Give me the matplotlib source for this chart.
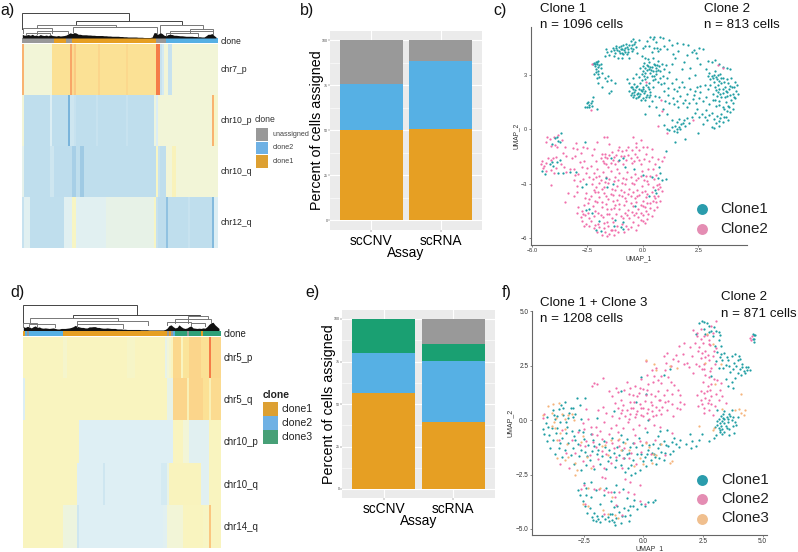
"""CNV clone heatmaps, assignment bars and UMAPs for two samples."""
import matplotlib
matplotlib.use("Agg")
import matplotlib.pyplot as plt
from matplotlib.colors import LinearSegmentedColormap, ListedColormap

plt.rcParams["font.family"] = ["Liberation Sans", "DejaVu Sans"]

W, H = 798, 552

# heatmap a
a_rows = ["chr7_p", "chr10_p", "chr10_q", "chr12_q"]
a_chr7_p = [.85] + [.5]*14 + [.72]*9 + [.88] + [.74, .79, .72] + [.72]*10 + [.76] + [.72]*13 + [.75] + [.72]*14 + [.97, .97] + [.3, .36] + [.5, .5] + [.3, .3] + [.5]*23
a_chr10_p = [.5] + [.26]*13 + [.4] + [.26]*8 + [.1] + [.33, .33, .3] + [.26]*10 + [.3] + [.26]*14 + [.3] + [.26]*13 + [.48, .4, .5] + [.5]*26 + [.85] + [.55, .52]
a_chr10_q = [.44] + [.26]*13 + [.33, .33] + [.25]*9 + [.2, .2] + [.26]*2 + [.18, .18] + [.26]*36 + [.55] + [.3] + [.26]*3 + [.5]*3 + [.58]*2 + [.5]*21
a_chr12_q = [.3] + [.42]*3 + [.26]*17 + [.42]*4 + [.55, .55] + [.42]*15 + [.45]*24 + [.55] + [.3] + [.25]*4 + [.15] + [.26]*10 + [.3] + [.26]*11 + [.12] + [.4, .4]
a_clone = [2]*16 + [0]*6 + [2]*3 + [0]*42 + [2]*5 + [1]*26
a_mass = [.15, .11, .12, .14, .11, .15, .1, .12, .09, .14, .11, .1, .12, .09, .14, .1, .09, .08, .1, .08, .09, .1, .12, .17, .21, .18, .22, .2, .15, .15, .13, .13, .13, .12, .12, .11, .11, .1, .1, .1, .1, .09, .09, .08, .08, .07, .07, .07, .07, .06, .06, .05, .05, .04, .04, .04, .04, .04, .03, .03, .03, .02, .02, .02, .02, .04, .22, .21, .15, .22, .18, .11, .09, .14, .15, .14, .11, .11, .1, .09, .09, .08, .07, .07, .07, .07, .06, .06, .05, .05, .04, .04, .09, .15, .15, .18, .1, .04]
# left col, right col, merge height, left child height, right child height
a_merges = [
    (0, 53.5, 1, .35, .68), (27, 80, .68, .54, .54), (7.5, 47, .54, .4, .43),
    (69, 90.5, .54, .23, .36), (.5, 14.7, .4, .2, .2), (25.5, 67.5, .43, .23, .16),
    (7.5, 23, .27, .15, .15), (2, 14, .2, .12, .12), (74, 95.5, .3, .15, .18),
    (84, 95.5, .36, .2, .2), (72, 88, .22, .12, .1),
]

# heatmap d
d_rows = ["chr5_p", "chr5_q", "chr10_p", "chr10_q", "chr14_q"]
d_chr5_p = [.56]*20 + [.53, .53] + [.56]*30 + [.54]*4 + [.56]*15 + [.45, .5, .53, .56] + [.75]*4 + [.56] + [.7]*3 + [.76]*6 + [.72]*4 + [.97] + [.75]*5
d_chr5_q = [.4] + [.56]*71 + [.45]*3 + [.76]*7 + [.6] + [.76]*7 + [.72]*3 + [.6] + [.74]*5
d_chr10_p = [.56]*28 + [.41]*47 + [.56]*5 + [.5]*3 + [.42]*10 + [.56]*6
d_chr10_q = [.56]*27 + [.41]*13 + [.33] + [.41]*28 + [.36]*3 + [.45] + [.57]*16 + [.42]*4 + [.56]*6
d_chr14_q = [.56]*20 + [.48]*7 + [.33] + [.41]*42 + [.42]*2 + [.5]*8 + [.56]*10 + [.55]*3 + [.8] + [.56]*5
d_clone = [0, 1, 2, 1] + [1]*16 + [0]*52 + [2, 0, 2, 1] + [3]*6 + [2] + [3]*6 + [0] + [3]*9
d_mass = [.15, .12, .16, .14, .1, .15, .18, .12, .14, .1, .09, .1, .09, .08, .09, .1, .08, .06, .06, .08, .08, .08, .09, .1, .12, .15, .2, .16, .14, .12, .12, .1, .1, .14, .14, .15, .15, .12, .12, .1, .09, .09, .1, .09, .08, .08, .08, .06, .06, .06, .05, .05, .04, .04, .04, .04, .04, .04, .04, .03, .03, .03, .03, .02, .02, .02, .02, .02, .02, .02, .02, .04, .09, .19, .22, .15, .1, .12, .22, .15, .1, .08, .1, .15, .18, .1, .09, .08, .09, .08, .1, .09, .15, .24, .3, .32, .22, .15, .08]
d_merges = [
    (0, 57, 1, .28, .62), (25, 88.7, .62, .49, .58), (3.3, 47.5, .49, .32, .36),
    (26.7, 62.5, .36, .2, .22), (76, 94, .46, .3, .32), (82.5, 92.5, .58, .3, .46),
    (0, 6.7, .28, .15, .15), (3, 16, .24, .12, .12), (27, 50, .24, .14, .1),
    (72, 84, .34, .2, .2), (84, 91, .3, .16, .16),
]

# stacked bars, values in percent
assays = ["scCNV", "scRNA"]
b_clone1 = [50.0, 50.8]
b_clone2 = [25.7, 37.4]
b_unassigned = [24.3, 11.8]
e_clone1 = [56.5, 39.7]
e_clone2 = [23.5, 35.5]
e_clone3 = [20.0, 10.0]
e_unassigned = [0.0, 14.8]

# UMAP points
c_clone1 = [
    (-2.2,3.65),(-2.12,3.72),(-2.05,3.6),(-2.15,3.5),(-2.0,3.75),(-1.95,3.55),(-2.1,3.3),(-2.02,3.2),(-2.2,3.05),(-2.0,3.02),(-1.9,3.35),(-1.85,3.1),
    (-2.05,2.8),(-1.72,2.85),(-1.6,2.65),(-1.55,2.92),(-1.42,2.72),(-1.25,2.55),(-2.0,2.55),(-1.85,2.3),(-1.42,2.1),(-1.5,2.0),(-2.5,1.42),(-2.45,1.52),
    (-2.4,1.35),(-2.35,1.46),(-2.5,1.25),(-2.3,1.3),(-2.42,1.22),(-2.3,1.55),(-2.25,1.75),(-2.6,1.2),(-2.05,1.1),
    (-1.72,4.02),(-1.6,4.25),(-1.65,4.42),(-1.5,4.1),(-1.42,4.3),(-1.35,4.5),(-1.3,4.02),(-1.25,4.2),(-1.2,4.6),(-1.15,4.35),(-1.05,4.55),(-1.0,4.42),(-.95,4.2),
    (-.9,4.62),(-.85,4.35),(-.8,4.47),(-.75,4.7),(-.7,4.15),(-.65,4.4),(-.6,4.62),(-.55,4.85),(-.45,4.95),(-.4,4.72),(-.5,4.3),(-.35,4.82),(-.62,3.92),(-.95,3.95),(-1.12,3.9),
    (-.18,4.9),(0,4.45),(.1,4.6),(.2,4.85),(.35,5.08),(.45,4.95),(.5,5.1),(.6,4.78),(.8,5.1),(.92,5.02),(1.2,4.92),(.5,4.5),(.65,4.45),(.8,4.42),(.95,4.6),(1.1,4.4),(1.3,4.65),(1.55,4.75),(1.8,4.7),(2.05,4.62),
    (2.2,4.25),(2.32,4.35),(2.42,4.22),(2.55,4.45),(2.7,4.4),(2.45,3.9),(2.95,3.75),(3.1,3.7),(3.25,3.8),(3.45,3.6),(3.62,3.45),(3.8,3.35),(3.95,3.3),
    (-.25,4.2),(-.05,4.05),(.1,3.95),(.25,3.85),(.45,3.95),(.05,3.65),(.2,3.55),(.3,3.7),(.42,3.45),(.55,3.55),(.62,3.35),(.75,3.5),(.88,3.62),(.7,3.75),(.95,3.3),(1.05,3.55),(1.2,3.15),(1.3,3.6),(1.45,3.9),(1.75,3.3),(1.85,3.7),(2.15,3.35),
    (-.12,3.35),(0,3.2),(.12,3.1),(.28,3.3),(.35,3.1),(.5,2.95),(.62,3.05),(.78,2.85),(.92,2.95),(-.3,3.05),(-.42,2.85),(-.15,2.9),(-.05,2.7),(.1,2.75),(.3,2.55),(.45,2.7),(1.1,2.8),(1.3,2.55),(1.5,2.75),(1.75,2.6),(2.1,2.8),(2.35,3.0),
    (-.7,2.75),(-.6,2.55),(-.5,2.35),(-.38,2.5),(-.25,2.4),(-.12,2.55),(0,2.3),(.15,2.45),(.28,2.2),(.45,2.3),(-.6,2.1),(-.48,2.0),(-.35,2.15),(-.22,2.0),(-.1,2.15),(.05,2.0),(.18,1.9),(.32,2.05),(-.45,1.8),(-.3,1.7),(-.15,1.85),(0,1.7),(.12,1.6),(.28,1.75),
    (.55,1.85),(.75,1.75),(.95,2.1),(1.15,1.9),(1.35,1.7),(1.55,2.1),(1.7,1.85),(1.85,2.3),(2.0,1.95),(2.15,2.2),(2.3,1.9),(2.45,2.3),(2.6,2.05),(2.8,2.45),(2.95,2.2),
    (2.25,1.65),(2.4,1.45),(2.55,1.7),(2.7,1.55),(2.85,1.75),(3.0,1.4),(3.15,1.6),(3.3,1.3),(3.45,1.55),(3.6,1.25),(3.75,1.5),(3.9,1.2),(4.05,1.45),(4.15,1.7),
    (3.0,3.1),(3.12,2.95),(3.25,3.2),(3.35,2.75),(3.5,3.05),(3.6,2.8),(3.2,2.6),(3.05,2.45),(3.4,2.45),(3.55,2.55),(3.7,2.35),(3.85,2.55),(4.0,2.8),(4.15,2.6),(4.25,2.45),(3.3,2.15),(3.45,2.2),(3.6,2.0),(3.75,2.1),(3.9,2.2),(4.05,1.95),(4.2,2.1),(3.15,1.95),(3.35,1.85),(3.55,1.8),(3.8,1.85),(4.0,1.6),
    (1.4,1.4),(1.6,1.25),(1.8,1.45),(2.0,1.2),(.9,1.1),(1.1,.85),(1.3,.5),(1.45,.2),(1.55,.4),(1.65,.55),(1.8,.35),(2.0,.6),(2.2,.7),(2.55,.65),(2.7,.3),(2.9,.5),(3.1,.15),(3.3,.35),(3.45,.2),(3.6,.4),(3.85,.5),(3.35,.75),(3.55,.85),(3.75,.7),(3.95,.95),(3.1,.9),(2.85,1.05),(2.45,1.1),
    (.75,.8),(.62,1.2),(.3,1.3),(.1,.85),(1.3,.1),(1.4,-.1),(1.55,-.15),(1.7,0),(2.5,-.22),(1.9,-.55),(1.46,-.7),(1.1,.0),(1.2,-.05),(.95,.25),(3.2,.05),
    # denser patches
    (-2.25,3.6),(-2.17,3.58),(-2.08,3.68),(-2.03,3.42),(-1.9,3.62),(-2.12,3.13),(-1.95,2.9),(-1.3,4.35),(-1.22,4.48),(-1.08,4.3),(-1.02,4.22),(-.98,4.6),(-.92,4.42),(-.87,4.15),(-.78,4.28),(-.72,4.55),(-.68,4.28),(-.55,4.5),(-.48,4.62),(-.42,4.4),
    (-.3,4.55),(.28,4.6),(.42,4.25),(.7,4.3),(1.35,4.15),(1.6,4.3),(2.0,4.1),(2.6,3.6),(2.85,3.3),
    (.02,3.5),(.12,3.4),(.18,3.25),(.25,3.5),(.32,3.42),(.38,3.25),(.45,3.2),(.5,3.6),(.58,3.2),(.66,3.55),(.7,3.25),(.8,3.2),(-.05,3.05),(.05,2.95),(.18,2.9),(.42,2.95),(.55,2.75),(.68,2.6),(.82,2.5),(.98,2.55),
    (-.55,2.3),(-.45,2.2),(-.4,2.05),(-.3,2.3),(-.27,1.95),(-.18,2.2),(-.12,1.95),(-.05,2.1),(.02,2.2),(.1,2.1),(.15,1.75),(.22,2.3),(.35,1.9),(-.38,1.9),(-.52,1.9),(-.2,1.75),(-.08,1.6),(.4,1.55),
    (2.95,2.95),(3.05,2.75),(3.15,2.85),(3.22,3.0),(3.3,2.9),(3.38,3.0),(3.45,2.65),(3.52,2.8),(3.68,2.6),(3.78,2.78),(3.92,2.4),(4.02,2.3),(4.12,2.35),(3.25,2.35),(3.38,2.05),(3.5,1.95),(3.62,2.2),(3.7,1.8),(3.82,2.05),(3.95,1.9),(4.1,1.8),(4.28,1.95),(3.28,1.6),(3.42,1.35),(3.68,1.1),(3.85,1.3),
    (1.55,.0),(1.62,.15),(1.72,.3),(1.9,.2),(1.85,.5),(2.1,.35),(2.35,.9),(2.65,.85),(2.8,.7),(3.0,.8),(3.2,.55),(3.5,.6),(3.65,.65),(3.78,1.0),(4.05,1.1),(3.45,.45),(1.0,1.55),(1.2,1.45),(1.55,1.55),(1.9,1.6),(2.1,1.45),(2.35,2.1),(2.6,2.4),(1.15,2.25),(1.4,2.2),(1.65,2.3),
]
c_clone1_low = [
    (-4.1,-.8),(-3.95,-.5),(-3.85,-.45),(-3.8,-.65),(-3.75,-.7),(-3.7,-.2),(-4.2,-1.9),(-4.1,-1.8),(-4.05,-2.0),(-3.85,-1.8),(-3.75,-1.7),(-4.55,-2.3),(-4.4,-2.45),(-3.8,-2.4),(-3.6,-2.4),(-3.3,-2.35),
    (-2.6,-.7),(-3.0,-2.35),(-2.75,-3.2),(-2.55,-3.0),(-1.45,-1.6),(-1.05,-1.7),(-.9,-1.6),(-.8,-2.1),(-.4,-2.2),(.0,-2.5),(.4,-2.6),(.75,-2.1),(.8,-2.4),(.7,-2.7),(.85,-2.8),(1.05,-2.75),(.55,-3.35),(.6,-3.5),(.3,-3.7),(-.35,-4.2),
    (-2.55,-4.45),(-2.4,-4.4),(-2.3,-4.6),(-1.95,-5.05),(-1.9,-5.6),(-2.1,-5.55),(-1.3,-5.3),(-1.25,-5.0),(-1.0,-5.4),(-.9,-5.1),(-.9,-5.5),(-1.65,-2.7),(-1.6,-3.2),(-1.35,-3.0),(1.05,-1.2),
]
c_clone2_up = [(-2.3,3.6),(-2.35,1.05),(.15,2.6),(.82,1.6),(.85,1.0),(.7,.2),(1.1,-.2),(2.25,.5),(3.6,3.4),(3.4,3.55)]
c_clone2 = [
    (-4.3,-.4),(-4.2,-.55),(-4.15,-.9),(-4.0,-.4),(-3.95,-.85),(-3.85,-1.0),(-4.35,-.7),(-3.65,-.6),(-3.5,-1.0),(-3.8,-.3),(-3.6,-1.3),(-3.45,-1.45),(-3.15,-1.05),
    (-4.6,-1.9),(-4.55,-1.75),(-4.45,-2.0),(-4.35,-1.85),(-4.25,-1.6),(-4.15,-1.7),(-4.05,-1.6),(-3.9,-1.5),(-4.5,-2.15),(-4.35,-2.3),(-4.15,-2.25),(-4.0,-2.4),(-3.9,-2.15),(-3.7,-1.9),(-3.55,-2.1),(-3.45,-2.35),(-3.3,-2.2),(-3.1,-2.2),
    (-4.15,-3.05),(-3.5,-4.0),(-3.35,-3.5),(-3.1,-3.7),(-2.95,-3.1),(-2.85,-2.85),(-2.9,-2.45),(-2.7,-2.75),(-2.55,-2.4),(-2.5,-2.15),(-2.65,-1.75),(-2.85,-1.8),(-3.0,-.75),(-2.95,-1.1),(-2.5,-1.05),(-2.3,-1.4),(-2.2,-1.1),(-2.1,-1.75),(-2.35,-2.0),
    (-2.05,-.7),(-1.75,-.45),(-1.6,-.45),(-1.85,-1.35),(-1.7,-1.35),(-1.6,-1.6),(-1.75,-1.85),(-1.55,-2.05),(-1.4,-1.25),(-1.3,-1.5),(-1.25,-1.9),(-1.15,-2.2),(-1.1,-1.15),(-.95,-1.2),(-.85,-1.45),(-.75,-1.15),(-.65,-.95),(-.5,-1.15),(-.45,-.45),(-.3,-1.0),(-.15,-1.15),(-.1,-.6),
    (-.55,-1.6),(-.4,-1.75),(-.25,-1.55),(-.1,-1.9),(.05,-1.65),(.15,-1.35),(.3,-1.75),(.4,-1.5),(.55,-1.9),(.7,-1.65),(.85,-1.75),(.95,-1.5),
    (-2.2,-2.4),(-2.05,-2.2),(-1.95,-2.55),(-1.8,-2.35),(-1.65,-2.65),(-1.45,-2.3),(-1.25,-2.6),(-1.05,-2.4),(-.9,-2.7),(-.7,-2.35),(-.55,-2.65),(-.35,-2.45),(-.2,-2.7),(-.05,-2.3),(.15,-2.55),(.25,-2.2),(.45,-2.2),(.6,-2.5),
    (-2.3,-3.0),(-2.1,-3.2),(-1.95,-2.95),(-1.75,-3.15),(-1.55,-2.95),(-1.4,-3.3),(-1.15,-3.1),(-1.0,-3.35),(-.8,-3.0),(-.6,-3.3),(-.4,-3.0),(-.25,-3.35),(-.05,-3.1),(.1,-3.4),(.25,-3.0),(.45,-3.15),(.65,-3.05),(.85,-3.4),
    (-2.55,-3.5),(-2.35,-3.65),(-2.15,-3.45),(-1.95,-3.75),(-1.75,-3.5),(-1.55,-3.85),(-1.35,-3.6),(-1.15,-3.9),(-.95,-3.65),(-.75,-3.95),(-.55,-3.7),(-.35,-3.8),(-.15,-3.6),(0,-3.95),(.15,-3.75),(.35,-4.05),(.55,-3.8),(.7,-3.65),(.8,-3.95),
    (-2.9,-4.3),(-2.75,-4.5),(-2.65,-4.15),(-2.45,-4.05),(-2.25,-4.2),(-2.05,-4.0),(-1.85,-4.3),(-1.65,-4.1),(-1.45,-4.4),(-1.25,-4.15),(-1.05,-4.4),(-.85,-4.15),(-.65,-4.45),(-.45,-4.25),(-.2,-4.4),(0,-4.2),(.15,-4.5),(.35,-4.35),(.5,-4.45),(.65,-4.3),
    (-2.95,-4.6),(-2.8,-4.85),(-2.6,-4.7),(-2.4,-4.9),(-2.2,-4.75),(-2.0,-4.6),(-1.8,-4.85),(-1.6,-4.65),(-1.4,-4.9),(-1.2,-4.65),(-1.0,-4.8),(-.8,-4.6),(-.6,-4.9),(-.4,-4.7),(-.2,-4.85),(0,-4.7),(.2,-4.95),(.4,-4.75),
    (-2.75,-5.05),(-2.55,-5.2),(-2.35,-5.05),(-2.15,-5.25),(-1.95,-5.4),(-1.75,-5.15),(-1.55,-5.35),(-1.35,-5.1),(-1.15,-5.35),(-.95,-5.2),(-.75,-5.3),(-.55,-5.4),(-.45,-5.1),(-.2,-5.25),(0,-5.05),(-.3,-5.55),
    (-2.2,-5.45),(-2.05,-5.65),(-1.85,-5.8),(-1.7,-5.65),(-1.6,-5.85),(-1.5,-5.75),(-1.4,-5.55),(-1.75,-5.45),(-1.1,-5.65),(-1.3,-5.8),
    (-3.2,-1.6),(-3.05,-1.45),(-2.8,-1.3),(-2.75,-2.05),(-3.05,-2.5),(-2.95,-3.45),(-1.05,-.95),(-.3,-.75),(.0,-.95),(.2,-1.0),(.4,-1.1),(-1.5,-.8),(-2.7,-.95),(-3.1,-2.8),
    # denser patches
    (-1.9,-1.6),(-1.8,-1.75),(-1.72,-1.5),(-1.65,-1.9),(-1.5,-1.4),(-1.45,-1.85),(-1.35,-1.7),(-1.2,-1.4),(-1.12,-1.75),(-1.0,-1.45),(-.9,-1.9),(-.75,-1.7),(-.65,-1.4),(-.5,-1.85),(-.35,-1.35),(-.15,-1.7),
    (-2.4,-2.6),(-2.25,-2.75),(-2.1,-2.65),(-1.9,-2.8),(-1.7,-2.9),(-1.5,-2.75),(-1.3,-2.85),(-1.1,-2.8),(-.95,-2.95),(-.75,-2.75),(-.5,-2.95),(-.3,-2.8),(-.1,-2.55),(.05,-2.8),(.2,-2.85),(.35,-2.55),(.5,-2.75),(.75,-3.0),
    (-2.2,-3.35),(-2.0,-3.45),(-1.85,-3.3),(-1.65,-3.65),(-1.45,-3.55),(-1.25,-3.35),(-1.05,-3.6),(-.85,-3.45),(-.65,-3.55),(-.45,-3.45),(-.25,-3.7),(-.05,-3.45),(.2,-3.55),(.4,-3.45),(.5,-3.7),(.7,-3.3),(.8,-3.2),
    (-2.6,-3.8),(-2.4,-3.85),(-2.15,-3.95),(-1.85,-4.0),(-1.6,-4.4),(-1.35,-3.95),(-1.05,-4.1),(-.8,-3.8),(-.55,-4.05),(-.3,-4.0),(-.1,-4.15),(.2,-4.05),(.45,-3.95),(.6,-4.0),
    (-2.7,-4.65),(-2.45,-4.6),(-2.15,-4.5),(-1.9,-4.7),(-1.5,-4.65),(-1.3,-4.35),(-.9,-4.9),(-.7,-4.7),(-.5,-4.55),(-.3,-4.6),(-.1,-4.6),(.1,-4.3),(.25,-4.65),
    (-2.65,-5.35),(-2.4,-5.3),(-2.0,-5.2),(-1.6,-5.1),(-1.45,-5.55),(-1.25,-5.55),(-.85,-5.65),(-.65,-5.5),(-.1,-5.0),(.1,-5.15),
]
f_clone1 = [
    (2.35,4.45),(2.45,4.55),(2.55,4.5),(2.65,4.45),(2.75,4.35),(2.85,4.1),(2.95,4.3),(3.05,4.1),(3.15,4.05),(3.2,3.9),(2.55,4.2),(2.2,3.95),(2.9,3.85),
    (4.58,3.75),(4.62,3.9),(4.65,3.75),(4.65,3.6),(4.7,3.9),(4.6,3.95),
    (3.0,3.4),(3.1,3.15),(3.25,3.05),(3.4,3.1),(3.55,2.75),(3.7,2.95),(3.85,3.05),(4.0,2.95),(4.05,2.8),(3.3,2.75),(3.45,2.55),(3.6,2.5),(3.75,2.35),(3.9,2.5),(4.05,2.35),(4.15,2.6),(4.2,2.25),(4.25,2.15),(4.35,2.3),(4.4,2.45),(3.95,2.15),(4.1,2.1),(3.85,1.95),(3.7,1.75),(3.55,1.55),(3.75,1.5),(2.85,2.05),(3.15,2.4),(3.45,1.9),
    (3.0,-.3),(3.1,-.05),(3.15,-.35),(3.2,-.15),(3.25,.2),(3.3,-.05),(3.3,-.4),(3.35,.3),(3.4,.05),(3.45,-.25),(3.5,.15),(3.55,-.1),(3.6,-.4),(3.65,.2),(3.7,.0),(3.75,-.25),(3.8,-.6),(3.4,-.55),(3.2,-.55),(2.95,-.8),(3.05,-.7),(3.6,-.7),(3.9,-.2),(3.95,.15),(3.7,.45),(3.1,.45),(3.4,.4),
    (2.75,-.95),(2.45,-.65),(2.35,-.9),(2.2,-1.2),(2.05,-.95),(1.95,-.65),(2.0,-1.3),(1.8,-1.1),(1.55,-.9),(1.3,-.8),(1.2,-1.0),(1.0,-.45),(1.05,-1.2),(1.25,-1.4),(1.5,-1.25),(.85,-.95),(.7,-.5),(.6,-.75),
    (-4.2,-.4),(-4.1,-.15),(-4.05,.15),(-3.95,-.7),(-3.85,-.35),(-3.8,.45),(-3.7,.05),(-3.65,-.6),(-3.55,.5),(-3.5,-.1),(-3.45,.7),(-3.35,.25),(-3.3,.85),(-3.2,-.3),(-3.1,.35),(-3.05,.55),(-2.95,.15),(-2.85,.3),(-2.8,1.0),(-2.65,.7),(-2.6,.05),(-2.45,1.0),(-2.7,-.45),
    (-4.05,-.95),(-3.9,-1.3),(-3.8,-.9),(-3.7,-1.55),(-3.55,-1.3),(-3.5,-1.05),(-3.4,-1.7),(-3.3,-1.35),(-3.15,-1.05),(-3.05,-1.6),(-2.95,-1.3),(-2.9,-2.0),(-2.75,-1.1),(-2.7,-1.65),(-2.6,-2.3),(-2.5,-.85),(-2.45,-1.45),(-2.4,-2.05),(-2.3,-1.15),(-2.25,-1.85),(-2.15,-1.4),(-2.1,-.9),(-2.05,-2.25),(-1.95,-1.55),(-1.85,-1.1),(-1.8,-2.0),(-1.65,-.95),(-1.55,-2.25),(-1.45,-1.35),(-1.4,-1.7),(-1.3,-.8),(-1.2,-2.15),(-1.1,-1.25),(-1.0,-1.6),(-.95,-2.05),(-.85,-1.0),(-.7,-1.55),(-.65,-2.2),(-.55,-1.25),(-.45,-1.85),(-.35,-2.45),(-.25,-1.55),(-.2,-.8),(-.15,-2.3),(-.05,-1.15),(.05,-1.7),(.1,-2.1),(.15,-.55),(.2,-1.35),(.3,-1.85),(.4,-1.1),(.45,-1.55),(.55,-2.0),(.6,-1.3),(.65,-1.75),(.75,-1.45),(.85,-1.85),(.95,-1.15),(-.75,-2.4),(-.5,-2.5),
    (-2.75,-3.2),(-2.65,-3.45),(-2.5,-2.9),(-2.4,-3.1),(-2.2,-2.85),(-2.55,-3.7),(-2.45,-3.95),(-2.35,-4.25),(-2.25,-4.05),(-2.15,-4.45),(-2.05,-4.25),(-1.95,-4.4),(-1.9,-4.55),(-2.1,-4.6),(-1.8,-3.85),(-1.65,-3.45),(-1.55,-3.1),(-1.45,-4.65),(-1.4,-4.3),(-1.35,-3.7),(-1.3,-4.6),(-1.2,-4.8),(-1.15,-4.5),(-1.1,-3.95),(-1.0,-4.2),(-.95,-4.75),(-.85,-3.15),(-.8,-4.05),(-.75,-4.4),(-.7,-3.6),(-.6,-4.65),(-.55,-3.95),(-.45,-3.95),(-.4,-3.65),(-.25,-4.1),(-.1,-3.85),(.05,-3.95),(.2,-3.75),(.4,-3.75),(.5,-3.65),
    (.1,1.2),(.85,2.1),(-.1,2.0),(-.95,1.35),(1.1,2.35),(-2.9,-.75),(-1.95,.1),(-1.25,.4),(-.3,.85),(.2,.0),
    # denser patches
    (-3.6,-.35),(-3.4,-.8),(-3.25,-.6),(-3.0,-.5),(-2.85,-.9),(-2.6,-1.35),(-2.55,-.55),(-2.35,-1.65),(-2.2,-.65),(-2.05,-1.2),(-1.9,-1.35),(-1.75,-1.65),(-1.6,-1.25),(-1.5,-1.9),(-1.25,-1.5),(-1.15,-1.85),(-.9,-1.35),(-.8,-1.75),(-.6,-1.5),(-.5,-2.05),(-.3,-1.25),(-.1,-1.55),(0,-1.9),(.15,-1.55),(.25,-1.15),(.35,-1.5),(.5,-1.7),(.7,-1.1),(.9,-1.5),(1.1,-1.55),(1.35,-1.1),(-.95,-.7),(-.7,-.85),(-.45,-1.05),
    (-3.75,.25),(-3.6,.2),(-3.35,.55),(-3.15,.1),(-2.95,.55),(-3.25,-.1),(-4.15,-.65),(-4.0,-.3),
    (3.2,2.9),(3.35,2.4),(3.5,2.9),(3.65,2.2),(3.8,2.65),(3.95,2.75),(4.15,2.45),(4.3,2.45),(4.45,2.3),(3.25,3.4),(3.15,3.7),(2.75,4.05),(2.6,3.95),(3.05,2.7),
    (3.1,-.2),(3.2,-.45),(3.25,-.25),(3.35,.1),(3.4,-.15),(3.5,-.35),(3.55,.05),(3.6,.3),(3.75,.15),(3.85,-.1),(3.3,-.65),(3.15,.05),
    (-2.4,-3.45),(-2.2,-3.55),(-2.0,-3.2),(-1.75,-4.4),(-1.6,-4.55),(-1.5,-4.45),(-1.3,-4.3),(-1.25,-4.0),(-.9,-4.4),(-.55,-4.35),(-1.25,-3.3),(-1.15,-3.0),(-.65,-4.15),(-2.0,-4.65),(-1.8,-4.7),(-1.25,-4.7),
]
f_clone2 = [
    (2.1,4.15),(2.25,4.0),(2.4,3.75),(2.5,3.55),(2.65,3.9),(2.75,3.5),(2.85,4.35),(3.05,4.55),(2.95,3.2),(2.6,3.2),(2.35,3.35),(2.15,3.55),(2.05,2.95),(1.95,3.35),(1.7,3.55),(1.65,3.05),(1.5,3.4),(1.35,3.0),(1.25,2.8),(1.0,3.1),(.95,2.65),(.85,2.95),
    (4.55,3.85),(4.5,3.7),(4.45,3.8),(1.85,2.65),(2.2,2.6),(2.4,2.85),(2.6,2.9),(2.75,2.75),(2.85,2.4),(3.0,2.6),(2.45,2.35),(2.6,2.1),(2.75,2.0),(2.95,1.9),(2.5,1.75),(2.7,1.55),(2.85,1.65),(3.1,1.85),(3.25,1.7),(2.65,1.35),
    (2.25,1.15),(2.4,.95),(2.55,1.25),(2.7,.8),(2.85,1.1),(3.0,.65),(3.15,.95),(3.3,1.1),(3.45,.8),(2.3,.65),(2.55,.55),(2.75,.45),(2.9,.25),(1.55,.85),(1.7,.75),(1.55,.5),(1.4,.55),(1.25,.2),(1.0,.45),
    (-2.15,1.55),(-2.05,1.7),(-1.95,1.65),(-1.7,1.95),(-1.45,1.35),(-1.3,1.1),(-1.15,1.5),(-1.05,1.3),(-.95,.95),(-1.2,.8),(-1.05,.55),(-.9,.45),(-.8,1.4),(-.7,1.75),(-.6,1.2),(-.55,.85),(-.45,.55),(-.35,1.55),(-.25,1.1),(-.15,.75),(-.1,1.9),(0,1.45),(.05,.9),(.1,2.7),(.15,2.1),(.2,1.65),(.3,1.2),(.35,.7),(.4,1.75),(.45,2.05),(.55,2.4),(.6,1.35),(.65,.95),(.75,1.7),(.8,.6),(.85,1.15),(.9,2.3),(1.0,1.4),(1.05,.9),(1.15,1.75),
    (-1.3,.2),(-1.15,-.2),(-1.0,.1),(-.85,-.35),(-.75,.2),(-.65,-.1),(-.55,.3),(-.45,-.4),(-.35,.15),(-.25,.4),(-.2,-.2),(-.1,.25),(0,.55),(.05,-.35),(.15,.35),(.25,.05),(.35,.4),(.45,-.2),(.55,.25),(.65,.45),(.7,-.3),
    (-2.5,-.4),(-2.3,.05),(-2.15,-.65),(-2.0,-.3),(-1.9,.45),(-1.8,-.5),(-1.65,-.1),(-1.55,.35),(-1.45,-.65),(-1.35,-.35),(-1.7,.6),(-2.4,.5),
    (-3.55,-.9),(-3.4,-.45),(-3.25,-1.5),(-3.0,-.9),(-2.85,-1.5),(-2.65,-1.15),(-2.55,-1.9),(-2.4,-.95),(-2.25,-1.6),(-2.1,-2.1),(-2.0,-1.25),(-1.9,-1.8),(-1.75,-1.4),(-1.65,-2.2),(-1.55,-1.0),(-1.35,-1.95),(-1.25,-1.3),(-1.15,-1.7),(-1.05,-.9),(-.9,-2.2),(-.8,-1.3),(-.6,-1.75),(-.4,-1.05),(-.3,-2.0),(-.1,-1.45),(.1,-1.0),(.3,-1.55),(.5,-.9),(.9,-1.6),(1.2,-.6),
    (-4.15,.3),(-4.2,.1),(-3.5,-2.0),(-3.1,-2.2),
    (-2.5,-3.0),(-2.05,-3.15),(-1.85,-3.15),(-1.65,-3.2),(-1.5,-3.3),(-1.75,-2.6),(-1.6,-2.65),(-1.35,-3.3),(-1.2,-3.55),(-1.15,-3.9),(-1.0,-3.3),(-.75,-2.7),(-.65,-3.3),(-.55,-2.85),(-.4,-3.4),(-.15,-3.0),(-.15,-3.7),(-.9,-4.35),(-1.65,-4.3),(-2.6,-3.15),(-2.45,-3.85),(.05,-3.85),
    # denser patches
    (-.95,.35),(-.85,.7),(-.7,.45),(-.6,.05),(-.5,.55),(-.4,.85),(-.3,.3),(-.2,1.25),(-.1,.55),(0,.2),(.1,1.15),(.2,.5),(.3,.85),(.4,.2),(.5,1.1),(.55,.6),(.7,.95),(.75,.3),(.9,.85),(-.45,1.15),(-.55,1.5),(-.15,1.5),(.15,1.4),(.35,2.3),(.6,1.85),(.75,2.05),(1.05,2.0),(1.2,1.2),(1.3,1.6),(1.45,1.4),(1.55,1.15),(1.2,.75),
    (2.3,3.2),(2.45,3.1),(2.55,2.6),(2.7,3.0),(2.8,3.45),(2.9,2.95),(3.05,3.3),(2.35,2.5),(2.55,2.35),(2.8,2.25),(2.25,3.85),(2.4,4.2),(2.55,3.85),(2.75,3.7),(2.9,4.0),
    (2.6,1.0),(2.75,.95),(2.85,.75),(3.05,1.2),(2.45,.75),(2.55,.35),(2.8,1.4),(3.2,1.4),(2.4,1.35),(1.9,2.45),(2.1,2.15),(1.7,2.6),(1.45,2.7),(1.15,2.5),
    (-2.75,-.55),(-2.55,-.15),(-2.45,-1.2),(-2.2,-.3),(-2.1,-1.0),(-1.95,-.7),(-1.75,-.85),(-1.55,-1.55),(-1.3,-1.05),(-1.0,-1.2),(-.85,-1.75),(-.5,-1.5),(-1.05,-.55),(-.35,-.7),(-.15,-.95),
]
f_clone3 = [
    (-4.0,.65),(-3.85,.35),(-3.75,-.1),(-3.7,-.35),(-3.55,.8),(-3.4,.3),(-3.3,.05),(-3.15,.25),(-3.0,.3),(-2.9,.0),(-3.85,-.25),(-3.8,.75),(-3.6,-.9),(-3.5,-.6),(-4.2,.25),
    (-3.6,-1.75),(-3.3,-1.85),(-3.15,-1.7),(-2.8,-2.3),(-2.85,-2.5),(-2.85,-1.95),(-2.55,-.75),(-2.2,-2.2),(-1.6,-1.15),(-1.5,-1.6),(-1.0,-.85),(-.95,-1.35),(-.4,-2.1),(0,-2.0),(.4,-1.55),(1.1,-1.95),(1.2,-1.9),(.75,-1.1),(.1,-1.05),
    (.1,2.75),(.45,2.6),(.55,2.3),(1.1,2.5),(1.4,2.4),(2.65,3.95),(2.9,3.5),(3.25,2.6),(3.0,1.65),(2.6,2.65),(4.1,1.2),(3.85,.45),(4.0,.5),(4.1,.35),(4.2,.25),(4.25,.45),(3.3,.5),(2.95,-.35),(2.9,-.45),(2.35,-.25),(.55,-1.6),
    (-2.3,-3.1),(-2.55,-3.85),(-2.3,-3.95),(-1.8,-3.1),(-1.7,-4.15),(-1.5,-4.3),(-1.05,-4.5),(-1.2,-4.35),(-1.3,-3.55),
    # denser patches
    (-3.3,-.4),(-3.2,-1.1),(-2.6,-1.0),(-2.35,-1.7),(-1.75,-1.2),(-1.35,-.9),(-.75,-1.05),(-.6,-1.35),(-.15,-1.75),(.25,-1.25),(.35,-1.95),(-3.65,.1),
]

# palette
ORANGE, BLUE, GREY, GREEN = "#e69f23", "#56b0e4", "#999999", "#1aa072"
TEAL, PINK, PEACH = "#1f9ea3", "#f06fab", "#f5b47c"
heat_cmap = LinearSegmentedColormap.from_list("cnv", [
    (0, "#4f9bd0"), (.25, "#bedded"), (.41, "#dff0f5"), (.5, "#f2f6d8"),
    (.56, "#f9f5c0"), (.72, "#fbe296"), (.76, "#fcd68c"), (.88, "#f9a868"), (1, "#f4703f"),
])
clone_cmap = ListedColormap([ORANGE, BLUE, GREY, "#2fa078"])

fig = plt.figure(figsize=(W / 100, H / 100), dpi=100)


def px_axes(left, top, right, bottom):
    return fig.add_axes([left / W, 1 - bottom / H, (right - left) / W, (bottom - top) / H])


def draw_heatmap(rows, clone, mass, merges, names, left, right, dend_top, bar_top, heat_top, bottom, size, label_x):
    ax = px_axes(left, heat_top, right, bottom)
    for i, row in enumerate(rows):
        ax.imshow([row], cmap=heat_cmap, vmin=0, vmax=1, aspect="auto",
                  extent=(0, len(row), i + 1, i), interpolation="nearest")
    ax.set_xlim(0, len(clone))
    ax.set_ylim(len(rows), 0)
    ax.axis("off")
    band = (bottom - heat_top) / len(rows)
    for i, name in enumerate(names):
        over.text(label_x, heat_top + band * (i + .5), name, fontsize=size, va="center", color="#222222")

    bar = px_axes(left, bar_top, right, heat_top - 1)
    bar.imshow([clone], cmap=clone_cmap, vmin=-.5, vmax=3.5, aspect="auto", interpolation="nearest")
    bar.axis("off")
    over.text(label_x, (bar_top + heat_top) / 2, "clone", fontsize=size, va="center", color="#222222")

    dend = px_axes(left, dend_top, right, bar_top)
    xs = list(range(len(mass)))
    dend.fill_between(xs, 0, mass, color="#111111", lw=0)
    for x0, x1, h, h0, h1 in merges:
        shade = "#444444" if h > .6 else "#777777"
        dend.plot([x0, x0, x1, x1], [h0, h, h, h1], color=shade, lw=.7, solid_joinstyle="miter")
    dend.set_xlim(0, len(clone))
    dend.set_ylim(0, 1.03)
    dend.axis("off")


def draw_bars(stack, colors, left, top, right, bottom, y100, y0):
    ax = px_axes(left, top, right, bottom)
    per_px = 100 / (y0 - y100)
    ax.set_facecolor("#ebebeb")
    ax.set_xlim(-.6, 1.6)
    ax.set_ylim(-(bottom - y0) * per_px, 100 + (y100 - top) * per_px)
    base = [0, 0]
    for vals, col in zip(stack, colors):
        ax.bar([0, 1], vals, width=.9, bottom=base, color=col, zorder=3)
        base = [p + q for p, q in zip(base, vals)]
    ax.set_yticks([0, 25, 50, 75, 100])
    ax.set_yticks([12.5, 37.5, 62.5, 87.5], minor=True)
    ax.set_xticks([0, 1], assays)
    ax.grid(True, which="major", color="white", lw=.8, zorder=1)
    ax.grid(True, which="minor", axis="y", color="white", lw=.4, zorder=1)
    ax.tick_params(axis="y", which="major", labelsize=2.6, length=1.2, width=.3, pad=.6, labelcolor="#444444", color="#444444")
    ax.tick_params(axis="y", which="minor", length=0)
    ax.tick_params(axis="x", labelsize=9.9, length=1.2, width=.3, pad=1.5, color="#444444")
    for s in ax.spines.values():
        s.set_visible(False)
    ax.set_xlabel("Assay", fontsize=9.9, labelpad=-1)
    ax.set_ylabel("Percent of cells assigned", fontsize=10.3, labelpad=-1.5)


def draw_umap(groups, left, top, right, bottom, xlim, ylim, xticks, yticks, tick_size, label_size, xpad):
    ax = px_axes(left, top, right, bottom)
    for pts, col in groups:
        ax.scatter([p[0] for p in pts], [p[1] for p in pts], s=2.6, color=col, linewidths=0, zorder=3)
    ax.set_xlim(*xlim)
    ax.set_ylim(*ylim)
    ax.set_xticks(xticks, [f"{t:.1f}".replace("-", "\u2212") for t in xticks])
    ax.set_yticks(yticks)
    ax.tick_params(labelsize=tick_size, length=1.5, width=.4, pad=1, labelcolor="#333333", color="#333333")
    ax.spines[["top", "right"]].set_visible(False)
    ax.spines[["left", "bottom"]].set_color("#666666")
    ax.spines[["left", "bottom"]].set_linewidth(.8)
    ax.set_xlabel("UMAP_1", fontsize=label_size, labelpad=xpad, color="#333333")
    ax.set_ylabel("UMAP_2", fontsize=label_size, labelpad=1, color="#333333")
    return ax


# overlay in pixel coordinates for panel letters, legends and notes
over = fig.add_axes([0, 0, 1, 1], zorder=10)
over.set_xlim(0, W)
over.set_ylim(H, 0)
over.axis("off")

draw_heatmap([a_chr7_p, a_chr10_p, a_chr10_q, a_chr12_q], a_clone, a_mass, a_merges, a_rows,
             22.3, 218, 12.5, 38, 44, 248, 6.2, 220.5)
draw_heatmap([d_chr5_p, d_chr5_q, d_chr10_p, d_chr10_q, d_chr14_q], d_clone, d_mass, d_merges, d_rows,
             23.3, 221, 304, 330.5, 336.7, 548, 6.9, 224)

draw_bars([b_clone1, b_clone2, b_unassigned], [ORANGE, BLUE, GREY], 330, 31, 482, 230, 40, 220)
draw_bars([e_clone1, e_clone2, e_clone3, e_unassigned], [ORANGE, BLUE, GREEN, GREY], 342, 310, 495, 498, 319, 489)

draw_umap([(c_clone1, TEAL), (c_clone2, PINK), (c_clone2_up, PINK), (c_clone1_low, TEAL)],
          530.7, 27, 747, 245, (-5.05, 4.7), (-6.37, 5.63), [-5, -2.5, 0, 2.5], [-6, -3, 0, 3], 4.1, 4.8, 1)
draw_umap([(f_clone1, TEAL), (f_clone2, PINK), (f_clone3, PEACH)],
          531.7, 311, 766.7, 535, (-4.68, 5.17), (-5.28, 5.02), [-2.5, 0, 2.5, 5], [-5, -2.5, 0, 2.5, 5], 4.7, 5.0, -.5)

# panel letters
for letter, x, y in [("a)", 0, 10), ("b)", 300, 10), ("c)", 493, 10), ("d)", 10, 293), ("e)", 305, 293), ("f)", 502, 293)]:
    over.text(x, y, letter, fontsize=11.5, va="center", color="#111111")

# clone legend panel a
over.text(255, 120, "clone", fontsize=6.2, va="center", color="#333333")
for name, col, y0 in [("unassigned", "#999999", 128), ("clone2", "#6fb1e4", 141.5), ("clone1", "#dda032", 155)]:
    over.fill([255.7, 268, 268, 255.7], [y0, y0, y0 + 12.5, y0 + 12.5], color=col, lw=0)
    over.text(272.5, y0 + 6.2, name, fontsize=5.2, va="center", color="#444444")

# clone legend panel d
over.text(263, 395.5, "clone", fontsize=7.4, va="center", fontweight="bold", color="#222222")
for name, col, y0 in [("clone1", "#dda032", 402), ("clone2", "#6fb1e4", 416), ("clone3", "#47a077", 430)]:
    over.fill([263, 278, 278, 263], [y0, y0, y0 + 14, y0 + 14], color=col, lw=0)
    over.text(281, y0 + 7, name, fontsize=7.6, va="center", color="#222222")

# UMAP legends
for name, col, y in [("Clone1", "#2a9cac", 209), ("Clone2", "#e48db3", 229)]:
    over.scatter([701.7], [y], s=62, color=col, linewidths=0)
    over.text(720.7, y, name, fontsize=10.9, va="center", color="#222222")
for name, col, y in [("Clone1", "#2a9cac", 480), ("Clone2", "#e48db3", 499), ("Clone3", "#f0bf8e", 518.5)]:
    over.scatter([702], [y], s=62, color=col, linewidths=0)
    over.text(721, y, name, fontsize=10.9, va="center", color="#222222")

# cell counts
for txt, x, y in [("Clone 1", 540, 8.5), ("n = 1096 cells", 540, 25), ("Clone 2", 704, 8.5), ("n = 813 cells", 704, 25),
                  ("Clone 1 + Clone 3", 540, 303), ("n = 1208 cells", 540, 319.5), ("Clone 2", 721, 297), ("n = 871 cells", 721, 314)]:
    over.text(x, y, txt, fontsize=9.6, va="center", color="#111111")

fig.savefig("out.png", dpi=100)
